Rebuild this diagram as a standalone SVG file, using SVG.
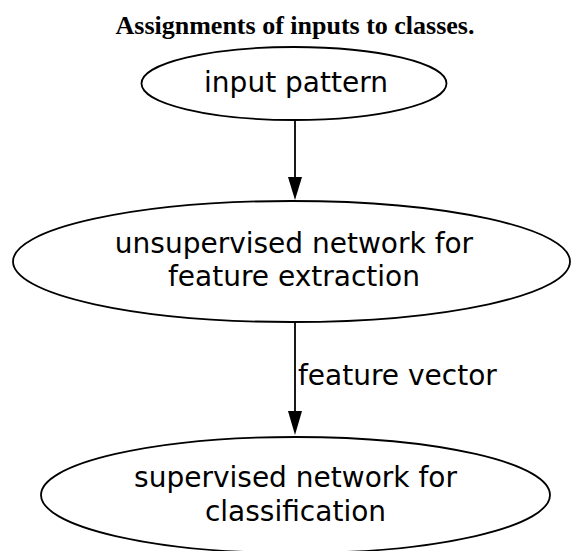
<svg xmlns="http://www.w3.org/2000/svg" width="571" height="551" viewBox="0 0 571 551">
<defs>
<style>
.node ellipse{fill:none;stroke:#000;stroke-width:1.8}
.lbl{font-family:"DejaVu Sans",sans-serif;font-size:28px;fill:#000;text-anchor:middle}
.elbl{font-family:"DejaVu Sans",sans-serif;font-size:28px;fill:#000}
.title{font-family:"Liberation Serif",serif;font-weight:bold;font-size:26px;text-anchor:middle}
.edge{stroke:#000;stroke-width:1.8;fill:none}
.head{fill:#000}
</style>
</defs>
<rect width="571" height="551" fill="#fff"/>
<text class="title" x="295" y="34">Assignments of inputs to classes.</text>
<g id="connectors">
<path class="edge" d="M295,120 L295,180"/>
<path class="head" d="M288,177 L302,177 L295,200 z"/>
<path class="edge" d="M295,322 L295,414"/>
<path class="head" d="M288,411 L302,411 L295,435 z"/>
<text class="elbl" x="298" y="385">feature vector</text>
</g>
<g id="n1" class="node">
<ellipse cx="294" cy="83.5" rx="152.5" ry="36.5"/>
<text class="lbl" x="296" y="92">input pattern</text>
</g>
<g id="n2" class="node">
<ellipse cx="291.5" cy="261.5" rx="278.5" ry="60.5"/>
<text class="lbl" x="294" y="253">unsupervised network for</text>
<text class="lbl" x="294" y="286">feature extraction</text>
</g>
<g id="n3" class="node">
<ellipse cx="295.5" cy="495" rx="254.5" ry="58"/>
<text class="lbl" x="295.5" y="487">supervised network for</text>
<text class="lbl" x="295.5" y="521">classification</text>
</g>
</svg>
